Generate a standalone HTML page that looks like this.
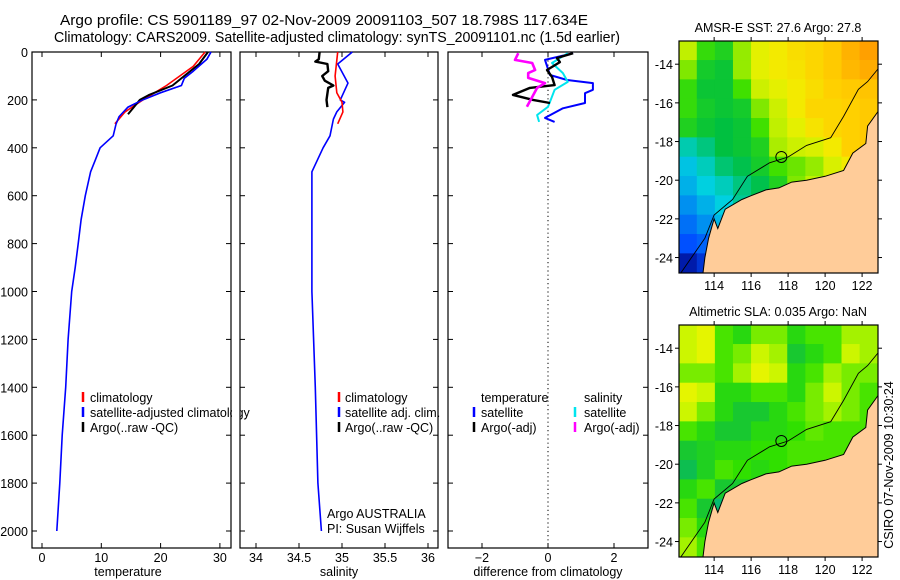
<!DOCTYPE html>
<html><head><meta charset="utf-8"><style>
html,body{margin:0;padding:0;background:#fff;}
svg{display:block;font-family:"Liberation Sans",sans-serif;}
</style></head><body>
<svg id="fig" width="900" height="580" viewBox="0 0 900 580">
<text x="60" y="25" font-size="14.5" textLength="528" lengthAdjust="spacingAndGlyphs">Argo profile: CS 5901189_97 02-Nov-2009 20091103_507 18.798S 117.634E</text>
<text x="54" y="42" font-size="14.5" textLength="566" lengthAdjust="spacingAndGlyphs">Climatology: CARS2009. Satellite-adjusted climatology: synTS_20091101.nc (1.5d earlier)</text>
<g id="g"></g>
</svg>
<script>
// ---------- data ----------
const depthTicks=[0,200,400,600,800,1000,1200,1400,1600,1800,2000];
const tempTicks=[0,10,20,30];
const salTicks=[34,34.5,35,35.5,36];
const diffTicks=[-2,0,2];
const tClimDepth=[0,60,140,200,250,300];
const tClimVal=[27.5,25.5,21,17,14,12.3];
const tSatDepth=[0,30,80,110,140,170,200,230,270,300,350,400,450,500,600,700,800,900,1000,1200,1400,1600,1800,2000];
const tSatVal=[28.5,27.8,25.5,24,23.5,20,17,14.5,13,12.5,12,9.8,9,8.2,7.3,6.6,6.1,5.6,5.0,4.4,4.0,3.4,3.0,2.5];
const tArgoDepth=[0,50,140,180,200,230,260];
const tArgoVal=[28,26.5,22,18,16.5,15.5,14.5];
const sClimDepth=[0,100,170,210,250,300];
const sClimVal=[34.95,34.92,34.94,35.0,35.01,34.95];
const sSatDepth=[0,50,130,200,210,250,280,350,400,500,600,1000,1400,1800,2000];
const sSatVal=[35.12,34.95,35.07,34.98,35.03,34.94,34.9,34.86,34.78,34.65,34.65,34.65,34.69,34.72,34.76];
const sArgoDepth=[0,30,40,50,80,100,120,140,150,200,230];
const sArgoVal=[34.74,34.73,34.69,34.83,34.84,34.77,34.8,34.9,34.84,34.82,34.83];
const dTSatDepth=[5,33,96,117,130,158,172,213,235,275,292];
const dTSatVal=[0.76,-0.09,0.06,0.58,1.36,1.36,1.12,1.12,0.45,-0.09,0.2];
const dSSatDepth=[5,46,88,125,158,208,229,263,292];
const dSSatVal=[0.6,0.12,0.45,0.6,0.2,0.06,0.0,-0.33,-0.27];
const dTArgoDepth=[5,25,42,75,104,138,150,179,200,213];
const dTArgoVal=[0.76,0.27,0.36,-0.03,0.12,0.2,-0.55,-1.06,-0.45,0.06];
const dSArgoDepth=[5,33,46,75,88,108,130,150,188,229];
const dSArgoVal=[-0.9,-1.0,-0.48,-0.39,-0.6,-0.6,-0.09,-0.33,-0.48,-0.64];
const lonTicks=[114,116,118,120,122];
const latTicks=[-14,-16,-18,-20,-22,-24];
const sstGrid=[
[27.5,26.8,26.6,27.3,27.8,28,28.2,28.3,28.5,28.9,29.2],
[27.2,26.5,26.4,27.3,27.8,28,28.1,28.3,28.5,28.8,29],
[26.8,26.4,26.4,26.9,27.6,27.8,28,28.2,28.4,28.5,28.6],
[26.8,26.5,26.4,26.5,27.2,27.6,28,28.3,28.3,28.4,28.5],
[26.6,26.4,26.3,26.4,26.9,27.5,27.8,28.1,28.3,28.4,28.5],
[25.4,25.8,26.3,26.4,26.6,27.4,27.6,27.7,28,28.4,28.5],
[24.8,25.3,25.9,26.2,26.5,26.9,27.1,27.3,27.7,28,28.5],
[24.5,25,25.3,25.8,26.2,26.6,27.2,27.5,27.8,28,28],
[24,24.5,25,25.6,26,26.4,27,27.4,27.8,28,28],
[23.5,24,24.6,25.2,25.8,26.2,26.8,27,27.5,28,28],
[23,23.3,24,24.6,25.4,26,26.5,27,27.5,28,28],
[22,22.5,23,24,25,26,26.5,27,27.5,28,28]];
const slaGrid=[
[.8,.9,.5,.4,.6,.6,.4,.5,.5,.7,.7],
[.8,.9,.5,.6,.8,.7,.3,.4,.5,.8,.7],
[.6,.6,.5,.7,.9,.8,.4,.5,.7,.6,.6],
[.9,.8,.4,.4,.5,.5,.4,.6,.8,.6,.5],
[.8,.6,.4,.3,.3,.4,.5,.6,.7,.6,.5],
[.5,.4,.3,.3,.4,.4,.45,.55,.5,.5,.5],
[.3,.35,.4,.4,.45,.45,.5,.5,.5,.5,.5],
[.2,.35,.5,.45,.4,.45,.5,.5,.5,.5,.5],
[.4,.5,.3,.3,.3,.4,.4,.4,.4,.4,.4],
[.5,.3,.1,.2,.3,.4,.4,.4,.4,.4,.4],
[.6,.4,.2,.3,.4,.4,.4,.4,.4,.4,.4],
[.7,.5,.3,.3,.4,.4,.4,.4,.4,.4,.4]];
const coastLon=[123.2,122.9,122.3,122.2,121.5,121,120,119,118.2,117.5,116.8,116,115.5,114.6,114.2,114,113.7,113.5,113.4,113.6,123.2];
const coastLat=[-16.3,-16.4,-17.2,-18.1,-18.6,-19.5,-19.8,-20,-20.1,-20.4,-20.5,-20.8,-21,-21.5,-22.5,-22,-23,-24,-24.8,-25,-25];
const isoLon=[112.2,113.5,114,115,115.8,117,118,119,120.3,121,121.8,122.3,122.9];
const isoLat=[-24.8,-23,-21.8,-21,-19.8,-19.1,-18.8,-18.2,-17.8,-16.7,-15.3,-14.9,-14.2];
const floatLon=117.634, floatLat=-18.798;

// ---------- helpers ----------
const NS="http://www.w3.org/2000/svg";
const G=document.getElementById('g');
function mk(tag,attrs,parent){const e=document.createElementNS(NS,tag);for(const k in attrs)e.setAttribute(k,attrs[k]);(parent||G).appendChild(e);return e;}
const y0=52, yScale=(531-52)/2000;
function yD(d){return y0+d*yScale;}

function panel(name,x0,x1,xAt,ticks,fmt){
  const top=52,bot=548;
  const r=mk('rect',{x:x0,y:top,width:x1-x0,height:bot-top,fill:'none',stroke:'#000','stroke-width':1.2});
  
  
  ticks.forEach(t=>{
    const x=xAt(t);
    mk('line',{x1:x,x2:x,y1:bot,y2:bot-5,stroke:'#000'});
    mk('line',{x1:x,x2:x,y1:top,y2:top+5,stroke:'#000'});
    const tx=mk('text',{x:x,y:562,'font-size':12.5,'text-anchor':'middle'});
    tx.textContent=fmt(t);
    
    
  });
  depthTicks.forEach(d=>{
    const y=yD(d);
    mk('line',{x1:x0,x2:x0+5,y1:y,y2:y,stroke:'#000'});
    mk('line',{x1:x1,x2:x1-5,y1:y,y2:y,stroke:'#000'});
  });
}
function series(name,xAt,depths,vals,color,w){
  const pts=depths.map((d,i)=>xAt(vals[i]).toFixed(1)+','+yD(d).toFixed(1)).join(' ');
  const p=mk('polyline',{points:pts,fill:'none',stroke:color,'stroke-width':w,'stroke-linejoin':'round'});
  
  
}
function label(txt,x,y,name,anchor,size){
  const t=mk('text',{x:x,y:y,'font-size':size||12.5,'text-anchor':anchor||'start'});
  t.textContent=txt;
  
  
  return t;
}
function legendBar(x,y,color){mk('line',{x1:x,x2:x,y1:y-10,y2:y,stroke:color,'stroke-width':2.5});}

// depth labels
depthTicks.forEach(d=>{label(String(d),28,yD(d)+5,'y-tick-label','end',12.5);});

// panel 1 temperature
const xT=v=>42+v*5.93;
panel('temperature-panel',32,231,xT,tempTicks,v=>String(v));
series('temp-satellite-adjusted',xT,tSatDepth,tSatVal,'#0000ff',1.6);
series('temp-climatology',xT,tClimDepth,tClimVal,'#ff0000',1.6);
series('temp-argo',xT,tArgoDepth,tArgoVal,'#000',2);
series('temp-satellite-adjusted-top',xT,tSatDepth.slice(0,10),tSatVal.slice(0,10),'#0000ff',1.4);
label('temperature',128,576,'x-axis-title-temperature','middle');
legendBar(83,402,'#ff0000');label('climatology',90,402,'legend-climatology');
legendBar(83,417,'#0000ff');label('satellite-adjusted climatology',90,417,'legend-satellite-adjusted');
legendBar(83,432,'#000');label('Argo(..raw -QC)',90,432,'legend-argo');

// panel 2 salinity
const xS=v=>299+(v-34.5)*86;
mk('rect',{x:232,y:380,width:8,height:60,fill:'#fff'});
panel('salinity-panel',240,438,xS,salTicks,v=>String(v));
series('sal-satellite-adjusted',xS,sSatDepth,sSatVal,'#0000ff',1.6);
series('sal-climatology',xS,sClimDepth,sClimVal,'#ff0000',1.6);
series('sal-argo',xS,sArgoDepth,sArgoVal,'#000',2.4);
label('salinity',339,576,'x-axis-title-salinity','middle');
legendBar(339,402,'#ff0000');label('climatology',345,402,'legend-climatology-sal');
legendBar(339,417,'#0000ff');label('satellite adj. clim.',345,417,'legend-satellite-adj-sal');
legendBar(339,432,'#000');label('Argo(..raw -QC)',345,432,'legend-argo-sal');
label('Argo AUSTRALIA',327,518,'data-source-label');
label('PI: Susan Wijffels',327,533,'pi-label');

// panel 3 difference
const xDf=v=>548+v*33;
panel('difference-panel',448,648,xDf,diffTicks,v=>v<0?'\u2212'+Math.abs(v):String(v));
mk('line',{x1:548,x2:548,y1:52,y2:548,stroke:'#000','stroke-dasharray':'1.2,3'});
series('diff-temp-satellite',xDf,dTSatDepth,dTSatVal,'#0000ff',2);
series('diff-sal-satellite',xDf,dSSatDepth,dSSatVal,'#00e5ee',2);
series('diff-temp-argo',xDf,dTArgoDepth,dTArgoVal,'#000',2.4);
series('diff-sal-argo',xDf,dSArgoDepth,dSArgoVal,'#ff00ff',2.6);
label('difference from climatology',548,576,'x-axis-title-difference','middle');
label('temperature',481,402,'legend-header-temperature');
label('salinity',584,402,'legend-header-salinity');
legendBar(474,417,'#0000ff');label('satellite',481,417,'legend-temp-satellite');
legendBar(474,432,'#000');label('Argo(-adj)',481,432,'legend-temp-argo');
legendBar(575,417,'#00e5ee');label('satellite',584,417,'legend-sal-satellite');
legendBar(575,432,'#ff00ff');label('Argo(-adj)',584,432,'legend-sal-argo');

// maps
function lerpCol(stops,v){
  if(v<=stops[0][0])return 'rgb('+stops[0][1].join(',')+')';
  for(let i=1;i<stops.length;i++){if(v<=stops[i][0]){const a=stops[i-1],b=stops[i],t=(v-a[0])/(b[0]-a[0]);
    const c=a[1].map((x,k)=>Math.round(x+(b[1][k]-x)*t));return 'rgb('+c.join(',')+')';}}
  return 'rgb('+stops[stops.length-1][1].join(',')+')';
}
const sstStops=[[21.5,[0,0,128]],[23,[0,80,255]],[25,[0,208,224]],[26.3,[0,192,64]],[26.9,[64,224,0]],[27.5,[192,240,0]],[27.9,[240,240,0]],[28.4,[255,208,0]],[29.2,[255,160,0]]];
const slaStops=[[0,[0,184,144]],[0.25,[16,192,64]],[0.45,[48,224,0]],[0.65,[144,240,0]],[0.85,[224,248,0]],[1,[240,240,0]]];
function map(name,top,title,grid,stops){
  const L=679,R=878,B=top+232;
  const lonA=112.1,lonB=122.86,latA=-12.8,latB=-24.8;
  const X=lo=>L+(lo-lonA)/(lonB-lonA)*(R-L);
  const Y=la=>top+(la-latA)/(latB-latA)*(B-top);
  const cid='clip-'+name;
  const cp=mk('clipPath',{id:cid});mk('rect',{x:L,y:top,width:R-L,height:B-top},cp);
  const g=mk('g',{'clip-path':'url(#'+cid+')'});
  
  
  const cw=(R-L)/grid[0].length,ch=(B-top)/grid.length;
  grid.forEach((row,i)=>row.forEach((v,j)=>{
    mk('rect',{x:L+j*cw-0.3,y:top+i*ch-0.3,width:cw+0.6,height:ch+0.6,fill:lerpCol(stops,v)},g);
  }));
  const land=mk('polygon',{points:coastLon.map((lo,i)=>X(lo).toFixed(1)+','+Y(coastLat[i]).toFixed(1)).join(' '),fill:'#ffcc99',stroke:'#000','stroke-width':1},g);
  
  
  mk('polyline',{points:isoLon.map((lo,i)=>X(lo).toFixed(1)+','+Y(isoLat[i]).toFixed(1)).join(' '),fill:'none',stroke:'#000','stroke-width':0.9},g);
  const c=mk('circle',{cx:X(floatLon),cy:Y(floatLat),r:5.5,fill:'none',stroke:'#000','stroke-width':1});
  
  
  mk('rect',{x:L,y:top,width:R-L,height:B-top,fill:'none',stroke:'#000','stroke-width':1.2});
  lonTicks.forEach(lo=>{const x=X(lo);mk('line',{x1:x,x2:x,y1:top,y2:top-4,stroke:'#000'});mk('line',{x1:x,x2:x,y1:B,y2:B+4,stroke:'#000'});
    label(String(lo),x,B+17,name+'-lon-label','middle');});
  latTicks.forEach(la=>{const y=Y(la);mk('line',{x1:L,x2:L-4,y1:y,y2:y,stroke:'#000'});mk('line',{x1:R,x2:R+4,y1:y,y2:y,stroke:'#000'});
    label('-'+Math.abs(la),673,y+5,name+'-lat-label','end');});
  label(title,778,top-9,name+'-map-title','middle');
}
map('sst',41,'AMSR-E SST: 27.6 Argo: 27.8',sstGrid,sstStops);
map('sla',325,'Altimetric SLA: 0.035 Argo: NaN',slaGrid,slaStops);
const st=label('CSIRO 07-Nov-2009 10:30:24',0,0,'timestamp-label','middle');
st.setAttribute('transform','translate(893,465) rotate(-90)');
</script>
</body></html>
